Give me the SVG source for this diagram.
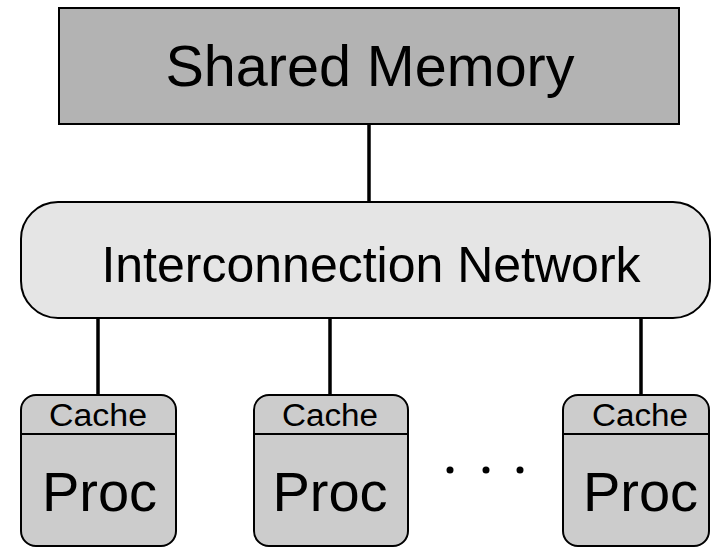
<svg xmlns="http://www.w3.org/2000/svg" width="711" height="549" viewBox="0 0 711 549">
  <style>
    .lbl { font-family: "Liberation Sans", Arial, sans-serif; fill: #000; text-anchor: middle; }
    .box { stroke: #000; stroke-width: 2; }
    .wire { stroke: #000; stroke-width: 3.5; fill: none; }
    .proc { fill: #cccccc; }
  </style>
  <rect width="711" height="549" fill="#fff"/>

  <!-- links between memory, network and processors -->
  <g id="connectors">
    <line class="wire" x1="369" y1="124" x2="369" y2="202"/>
    <line class="wire" x1="98" y1="318" x2="98" y2="395"/>
    <line class="wire" x1="330" y1="318" x2="330" y2="395"/>
    <line class="wire" x1="641" y1="318" x2="641" y2="395"/>
  </g>

  <g id="memory">
    <rect class="box" x="59" y="8" width="620" height="116" fill="#b3b3b3"/>
    <text class="lbl" x="370" y="86" font-size="57.5">Shared Memory</text>
  </g>

  <g id="network">
    <rect class="box" x="21" y="202" width="689" height="116" rx="37" ry="37" fill="#e5e5e5"/>
    <text class="lbl" x="371" y="282" font-size="50">Interconnection Network</text>
  </g>

  <g id="proc1">
    <rect class="box proc" x="21" y="395" width="155" height="151" rx="15" ry="15"/>
    <line class="box" x1="21" y1="434" x2="176" y2="434"/>
    <text class="lbl" x="98" y="426" font-size="31" textLength="98" lengthAdjust="spacingAndGlyphs">Cache</text>
    <text class="lbl" x="99.5" y="511" font-size="56">Proc</text>
  </g>

  <g id="proc2">
    <rect class="box proc" x="254" y="395" width="154" height="151" rx="15" ry="15"/>
    <line class="box" x1="254" y1="434" x2="408" y2="434"/>
    <text class="lbl" x="330" y="426" font-size="31" textLength="96" lengthAdjust="spacingAndGlyphs">Cache</text>
    <text class="lbl" x="330" y="511" font-size="56">Proc</text>
  </g>

  <g id="ellipsis">
    <circle cx="450" cy="470" r="3.5" fill="#000"/>
    <circle cx="486" cy="470" r="3.5" fill="#000"/>
    <circle cx="520" cy="470" r="3.5" fill="#000"/>
  </g>

  <g id="procN">
    <rect class="box proc" x="563" y="395" width="146" height="151" rx="15" ry="15"/>
    <line class="box" x1="563" y1="434" x2="709" y2="434"/>
    <text class="lbl" x="640" y="426" font-size="31" textLength="96" lengthAdjust="spacingAndGlyphs">Cache</text>
    <text class="lbl" x="640.5" y="511" font-size="56">Proc</text>
  </g>
</svg>
